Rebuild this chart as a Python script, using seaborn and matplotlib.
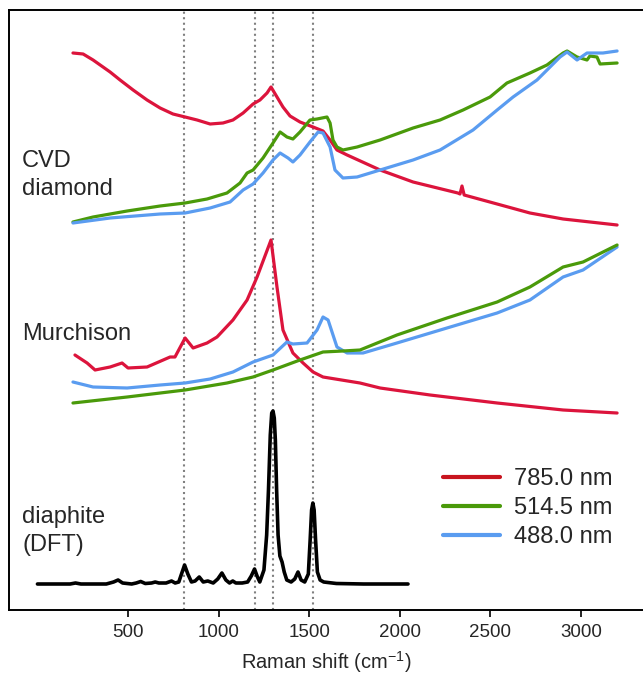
import numpy as np
import seaborn as sns
import matplotlib.pyplot as plt
from matplotlib.lines import Line2D

sns.set_style("ticks")
plt.rcParams['font.family'] = ['Liberation Sans', 'DejaVu Sans']
plt.rcParams['mathtext.fontset'] = 'custom'
plt.rcParams['mathtext.rm'] = 'Liberation Sans'
plt.rcParams['mathtext.default'] = 'regular'

# colours of the three laser lines
red = '#dc143c'
green = '#4a9a0a'
blue = '#5a9cf0'

# CVD diamond (stacked, arbitrary offset units)
cvd_red_x = [196, 252, 307, 401, 456, 528, 605, 677, 748, 815, 881, 953, 1024, 1079, 1135, 1190,
             1228, 1267, 1289, 1322, 1355, 1394, 1449, 1521, 1576, 1615, 1653, 1709, 1891, 2073,
             2320, 2332, 2343, 2355, 2537, 2718, 2901, 3199]
cvd_red_y = [557, 556, 550, 538, 530, 520, 510, 502, 496, 493, 490, 486, 487, 490, 497, 506,
             510, 517, 523, 513, 503, 494, 488, 483, 479, 470, 460, 455, 440, 428,
             417, 416, 424, 415, 406, 397, 391, 385]
cvd_green_x = [196, 307, 495, 677, 815, 936, 1046, 1118, 1157, 1190, 1245, 1300, 1339, 1377,
               1410, 1449, 1504, 1543, 1598, 1615, 1631, 1653, 1686, 1764, 1891, 2073, 2222,
               2349, 2498, 2591, 2718, 2812, 2901, 2923, 2978, 3033, 3049, 3088, 3105, 3199]
cvd_green_y = [388, 393, 399, 404, 407, 411, 417, 427, 437, 440, 452, 467, 478, 473,
               471, 478, 490, 491, 493, 487, 470, 463, 460, 463, 470, 482, 490,
               500, 513, 527, 537, 545, 557, 559, 553, 550, 554, 553, 546, 547]
cvd_blue_x = [196, 401, 677, 815, 953, 1063, 1135, 1190, 1245, 1300, 1339, 1383, 1410, 1449,
              1504, 1549, 1576, 1615, 1642, 1686, 1764, 1891, 2073, 2222, 2404, 2537, 2625,
              2757, 2829, 2884, 2923, 2978, 3033, 3121, 3199]
cvd_blue_y = [387, 392, 396, 397, 402, 408, 420, 426, 437, 450, 457, 452, 448, 455,
              468, 478, 477, 463, 440, 432, 433, 440, 450, 460, 480, 500, 513,
              530, 543, 553, 558, 550, 557, 557, 559]

# Murchison
mur_red_x = [207, 274, 318, 401, 467, 500, 605, 732, 759, 815, 859, 936, 991, 1079, 1157, 1212,
             1289, 1322, 1355, 1410, 1466, 1521, 1576, 1780, 1891, 2167, 2537, 2901, 3199]
mur_red_y = [255, 247, 240, 243, 247, 242, 243, 253, 253, 272, 262, 267, 273, 290, 310, 333,
             370, 323, 280, 257, 247, 238, 233, 227, 222, 215, 207, 200, 197]
mur_green_x = [196, 495, 815, 1046, 1190, 1300, 1449, 1576, 1686, 1780, 1984, 2260, 2537, 2718,
               2901, 3011, 3199]
mur_green_y = [207, 213, 220, 227, 233, 240, 250, 258, 259, 260, 275, 292, 308, 323,
               343, 348, 365]
mur_blue_x = [196, 307, 495, 677, 815, 953, 1079, 1190, 1300, 1377, 1410, 1488, 1543, 1576,
              1604, 1653, 1709, 1797, 1984, 2260, 2537, 2718, 2901, 3011, 3199]
mur_blue_y = [228, 223, 222, 225, 227, 231, 238, 248, 255, 268, 266, 267, 280, 293,
              290, 263, 257, 257, 267, 282, 297, 310, 333, 340, 363]

# diaphite DFT spectrum
dft_x = [0, 100, 180, 210, 240, 280, 380, 420, 445, 470, 520, 545, 570, 595, 630, 650, 670,
         710, 740, 760, 780, 795, 812, 830, 850, 870, 893, 915, 940, 970, 995, 1018, 1040,
         1060, 1078, 1095, 1130, 1160, 1180, 1198, 1212, 1227, 1250, 1265, 1275, 1285, 1293,
         1300, 1307, 1313, 1320, 1328, 1338, 1350, 1362, 1376, 1400, 1420, 1438, 1455, 1475,
         1495, 1505, 1513, 1520, 1527, 1535, 1545, 1560, 1580, 1650, 1800, 2045]
dft_y = [26, 26, 26, 27, 26, 26, 26, 28, 30, 27, 26, 27, 28.5, 26.5, 27, 28, 27,
         27, 29, 27, 28, 36, 45, 36, 28, 29, 33, 28, 29, 27, 31, 37, 30,
         27, 29, 27, 27, 28, 34, 41, 34, 28, 40, 75, 120, 175, 197,
         199, 192, 170, 120, 75, 54, 48, 38, 30, 28, 31, 38, 30, 28,
         36, 70, 100, 107, 100, 70, 38, 30, 28, 26.5, 26, 26]

marker_lines = [810, 1200, 1300, 1520]
legend_labels = ['785.0 nm', '514.5 nm', '488.0 nm']

fig = plt.figure(figsize=(6.43, 6.78), dpi=100)
ax = fig.add_axes([9 / 643, 68 / 678, 634 / 643, 600 / 678])

for xv in marker_lines:
    ax.axvline(xv, color='#808080', ls=':', lw=1.5, zorder=1)

lw = 2.3
for xs, ys, c in [(cvd_red_x, cvd_red_y, red), (cvd_green_x, cvd_green_y, green),
                  (cvd_blue_x, cvd_blue_y, blue), (mur_red_x, mur_red_y, red),
                  (mur_blue_x, mur_blue_y, blue), (mur_green_x, mur_green_y, green)]:
    sns.lineplot(x=xs, y=ys, color=c, lw=lw, ax=ax, estimator=None, sort=False)
sns.lineplot(x=dft_x, y=dft_y, color='black', lw=2.6, ax=ax, estimator=None, sort=False)

ax.set_xlim(-157, 3342)
ax.set_ylim(0, 600)
ax.set_yticks([])
ax.set_xticks([500, 1000, 1500, 2000, 2500, 3000])
ax.tick_params(axis='x', labelsize=13.5, length=5, width=1.2, pad=5, color='black')
ax.set_xlabel(r'Raman shift (cm$^{-1}$)', fontsize=14.5, labelpad=6)
ax.set_ylabel('')
for s in ['left', 'top', 'bottom']:
    ax.spines[s].set_linewidth(1.4)
    ax.spines[s].set_color('black')
ax.spines['right'].set_visible(False)

ax.text(13 / 634, 435 / 600, 'CVD\ndiamond', transform=ax.transAxes, fontsize=17,
        va='center', ha='left', linespacing=1.3)
ax.text(13 / 634, 276 / 600, 'Murchison', transform=ax.transAxes, fontsize=17,
        va='center', ha='left')
ax.text(13 / 634, 79 / 600, 'diaphite\n(DFT)', transform=ax.transAxes, fontsize=17,
        va='center', ha='left', linespacing=1.3)

handles = [Line2D([], [], color=c, lw=3) for c in ['#c8141e', green, blue]]
ax.legend(handles, legend_labels, loc='center left', bbox_to_anchor=(434 / 634, 102 / 600),
          frameon=False, fontsize=17, handlelength=2.4, handletextpad=0.6,
          labelspacing=0.3, borderpad=0, borderaxespad=0)

fig.savefig('out.png', dpi=100)
